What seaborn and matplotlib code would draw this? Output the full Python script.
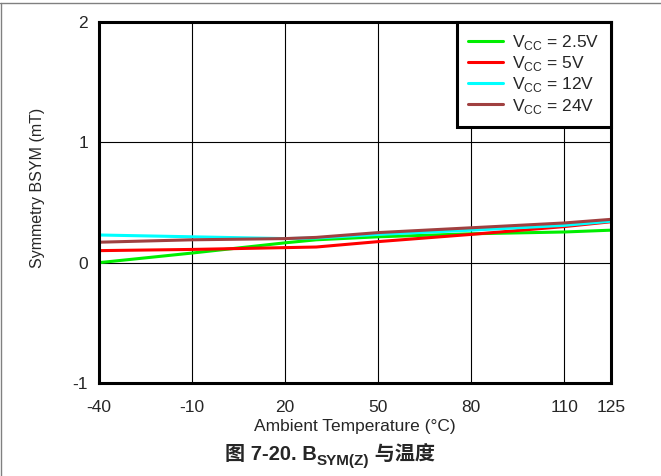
import seaborn as sns
import pandas as pd
import matplotlib.pyplot as plt
from matplotlib.lines import Line2D

# temperatures (degC) where the curves are sampled
temps = [-40, -10, 20, 30, 50, 80, 110, 125]

# symmetry BSYM (mT) per supply voltage
bsym_2v5 = [0.00, 0.08, 0.165, 0.19, 0.215, 0.24, 0.255, 0.27]
bsym_5v = [0.10, 0.11, 0.125, 0.13, 0.175, 0.235, 0.30, 0.34]
bsym_12v = [0.23, 0.215, 0.20, 0.205, 0.235, 0.27, 0.31, 0.345]
bsym_24v = [0.17, 0.19, 0.20, 0.21, 0.25, 0.29, 0.33, 0.36]

series_names = [r'V$_{\mathregular{CC}}$ = 2.5V', r'V$_{\mathregular{CC}}$ = 5V',
                r'V$_{\mathregular{CC}}$ = 12V', r'V$_{\mathregular{CC}}$ = 24V']
series_colors = ['#00ee00', '#ff0000', '#00ffff', '#a04040']

x_ticks = [-40, -10, 20, 50, 80, 110, 125]
y_ticks = [-1, 0, 1, 2]


def build_df():
    rows = []
    for name, vals in zip(series_names, [bsym_2v5, bsym_5v, bsym_12v, bsym_24v]):
        for t, v in zip(temps, vals):
            rows.append({'temp': t, 'bsym': v, 'vcc': name})
    return pd.DataFrame(rows)


df = build_df()

sns.set_style('white')
plt.rcParams['font.family'] = ['Liberation Sans', 'Noto Sans CJK SC', 'DejaVu Sans']
plt.rcParams['mathtext.fontset'] = 'custom'
plt.rcParams['mathtext.rm'] = 'Liberation Sans'
plt.rcParams['axes.unicode_minus'] = False

fig = plt.figure(figsize=(6.61, 4.76), dpi=100)
ax = fig.add_axes([99 / 661, 1 - 383 / 476, 512 / 661, 361 / 476])

sns.lineplot(data=df, x='temp', y='bsym', hue='vcc', palette=series_colors,
             hue_order=series_names, linewidth=2.2, ax=ax, legend=False)

ax.set_xlim(-40, 125)
ax.set_ylim(-1, 2)
ax.set_xticks(x_ticks)
ax.set_yticks(y_ticks)
ax.tick_params(labelsize=12.5, length=0)
ax.tick_params(axis='x', pad=12)
ax.tick_params(axis='y', pad=8)
ax.grid(True, color='black', linewidth=0.8)
for s in ax.spines.values():
    s.set_color('black')
    s.set_linewidth(2.2)

ax.set_xlabel('Ambient Temperature (°C)', fontsize=12.5, labelpad=3)
ax.set_ylabel('Symmetry BSYM (mT)', fontsize=11.5, labelpad=10)
ax.yaxis.set_label_coords(-0.105, 0.54)

# legend with square black frame
handles = [Line2D([], [], color=c, linewidth=2.2) for c in series_colors]
leg = ax.legend(handles, series_names, loc='upper right', fontsize=12.5,
                frameon=True, fancybox=False, borderaxespad=0,
                handlelength=2.0, labelspacing=0.12, handletextpad=0.55,
                borderpad=0.65)
leg.get_frame().set_edgecolor('black')
leg.get_frame().set_linewidth(2.2)
leg.get_frame().set_alpha(1)

# caption: 图 7-20. B_SYM(Z) 与温度
t1 = fig.text(225 / 661, 1 - 460 / 476, '图 7-20. B', fontsize=14.5, fontweight='bold',
              ha='left', va='baseline')
t2 = fig.add_artist(plt.Annotation('SYM(Z)', xy=(1, 0), xycoords=t1,
                                   xytext=(0, -3), textcoords='offset points',
                                   fontsize=11, fontweight='bold', va='bottom'))
t3 = fig.add_artist(plt.Annotation(' 与温度', xy=(1, 0), xycoords=t2,
                                   xytext=(0, 3), textcoords='offset points',
                                   fontsize=14.5, fontweight='bold', va='bottom'))

# partial gray frame around the figure (top and left edges)
fig.add_artist(Line2D([0, 1], [1 - 3 / 476, 1 - 3 / 476], color='#808080',
                      linewidth=1, transform=fig.transFigure))
fig.add_artist(Line2D([1 / 661, 1 / 661], [0, 1 - 3 / 476], color='#808080',
                      linewidth=1, transform=fig.transFigure))

fig.savefig('out.png', dpi=100)
